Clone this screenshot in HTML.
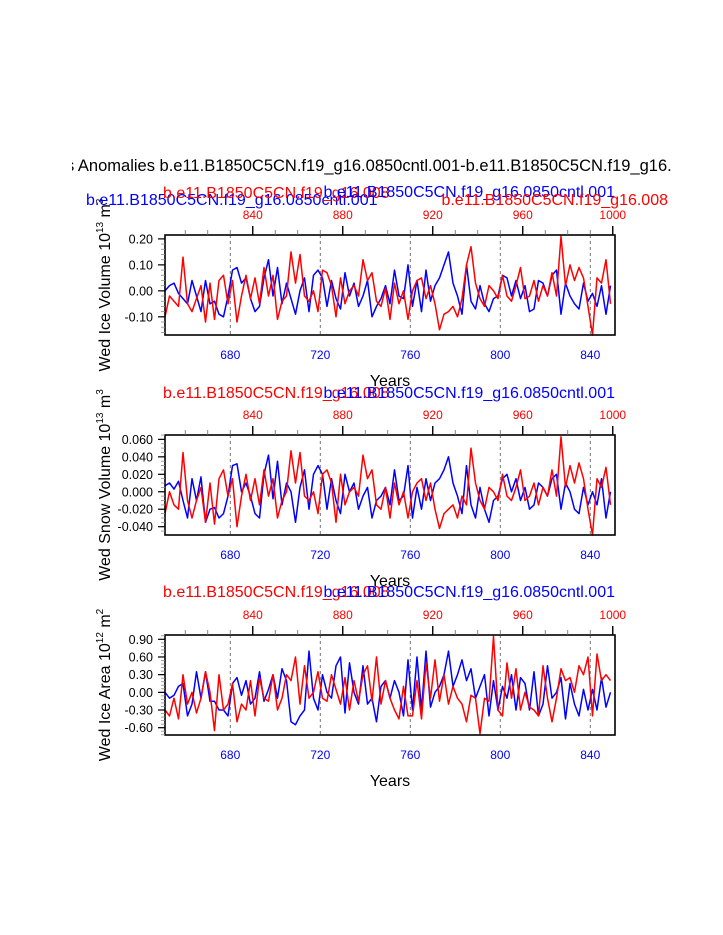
<!DOCTYPE html>
<html><head><meta charset="utf-8"><style>
html,body{margin:0;padding:0;background:#fff;}
svg{display:block;font-family:"Liberation Sans",Arial,sans-serif;}
</style></head><body>
<svg id="chart" width="723" height="935" viewBox="0 0 723 935">
<defs><clipPath id="titleclip"><rect x="72" y="140" width="610" height="40"/></clipPath></defs>
<text x="66" y="171" font-size="16.5" fill="#000" clip-path="url(#titleclip)">s Anomalies b.e11.B1850C5CN.f19_g16.0850cntl.001-b.e11.B1850C5CN.f19_g16.</text>
</svg>
<script>
const blueP1=[0,2,3,-1,-3,-5,4,-2,-8,4,-5,-4,-9,-10,-2,8,9,3,5,-3,-8,-6,5,12,-2,9,-5,3,-3,-9,0,5,-8,6,8,5,-6,4,-3,-7,7,-2,3,-6,-2,4,-10,-6,-3,2,-5,8,-2,-3,10,-6,4,-8,8,-4,2,5,10,15,3,-2,-9,10,-4,-7,2,-5,-8,-3,-2,6,5,-2,4,-3,2,-8,-7,4,3,-2,6,8,-9,3,-2,-5,-7,3,-4,-1,-6,2,-9,2];
const redP1=[-10,-2,-4,-6,13,-5,-8,-3,2,-12,3,-11,4,6,-5,4,-12,-2,6,-3,5,-5,9,-2,6,-11,-4,-2,15,3,14,-2,-4,0,-8,8,7,2,-10,5,-5,0,2,-2,12,4,7,-4,-6,1,-11,3,-5,0,-11,0,4,5,-3,2,-5,-15,-9,-8,-6,-10,-3,10,17,3,-3,-6,2,0,-3,6,-2,-4,2,9,-3,-2,4,-4,2,-2,7,-2,21,2,10,4,9,5,-6,-17,5,3,12,-5];
const blueP2=[7,10,3,12,-10,-30,15,-10,17,-35,-20,-18,-30,-25,-5,30,32,0,10,-5,-25,-30,20,42,-8,35,-15,10,0,-35,5,25,-20,20,30,20,-20,15,-10,-25,20,0,10,-20,-5,5,-30,-10,-5,5,-15,25,-10,-5,30,-30,5,-20,15,-10,10,15,25,40,10,-5,-25,30,-15,-30,5,-20,-35,-10,-5,15,20,0,15,-10,5,-20,-15,10,5,-5,15,20,-20,10,0,-20,-25,5,-15,0,-15,15,-30,0];
const redP2=[-25,0,-15,-20,45,-10,-30,-10,5,-35,10,-37,15,25,-5,15,-40,-5,20,-10,15,-15,25,-5,15,-30,-10,0,47,10,45,-5,-10,0,-25,20,25,10,-35,20,-15,0,5,-5,42,15,25,-15,-20,5,-30,10,-15,0,-30,0,10,15,-10,10,-20,-42,-25,-20,-15,-30,-5,-15,50,10,-10,-20,5,0,-10,20,-5,-10,5,25,-10,-5,10,-15,5,-5,25,-5,63,5,30,10,33,15,-20,-50,15,5,28,-15];
const blueP3=[0,-10,-5,10,15,-40,-20,35,-10,35,-15,-15,-30,-30,-40,15,25,-5,20,-20,-10,35,-15,5,30,-10,40,20,-50,-55,-40,-30,70,-10,-30,30,0,-10,45,60,-35,50,0,-20,45,-20,-10,-50,10,20,-10,20,0,-40,55,-30,60,-30,70,-25,0,10,30,70,10,30,55,20,40,-10,10,30,-40,20,-30,10,-10,30,-30,25,15,-30,35,-40,-20,45,-10,0,25,-45,15,-20,-40,5,-30,5,-30,25,-25,0];
const redP3=[-30,-40,-10,-45,30,-20,0,-35,-10,35,0,-65,30,-30,-20,15,-50,-20,-30,20,-40,25,-10,-15,30,-30,-10,30,20,60,-20,45,-10,0,35,-10,-15,30,5,-20,25,-30,20,-15,30,45,-15,60,-20,20,-10,-30,-45,10,-40,-40,20,-45,50,-10,55,-15,30,-20,10,-10,-20,-50,-5,-10,-70,-10,-15,95,-30,-40,50,-10,40,-30,0,-25,-30,-40,45,-10,-50,-10,40,20,25,0,45,30,60,-40,65,20,30,20];
const bottomTicks=[680,720,760,800,840];
const topTicks=[840,880,920,960,1000];
const yTicksP1=["0.20","0.10","0.00","-0.10"];
const yTicksP2=["0.060","0.040","0.020","0.000","-0.020","-0.040"];
const yTicksP3=["0.90","0.60","0.30","0.00","-0.30","-0.60"];

const NS="http://www.w3.org/2000/svg";
const svg=document.getElementById('chart');
function mk(tag,attrs,parent){const e=document.createElementNS(NS,tag);for(const k in attrs)e.setAttribute(k,attrs[k]);(parent||svg).appendChild(e);return e;}
const years=[];for(let i=0;i<100;i++)years.push(651+2*i);
const X0=165,X1=615,YR0=651,YR1=851,RED_OFF=150;
const xs=y=>X0+(y-YR0)*(X1-X0)/(YR1-YR0);

function panel(o){
  const g=mk('g',{});
  
  
  const ys=v=>o.top+(o.ymax-v*o.scale)/(o.ymax-o.ymin)*(o.bot-o.top);
  bottomTicks.forEach(t=>{const l=mk('line',{x1:xs(t),x2:xs(t),y1:o.top,y2:o.bot,stroke:'#555','stroke-width':0.8,'stroke-dasharray':'3,3'},g);
    
    });
  [[o.blue,'#0000ff','blue-series'],[o.red,'#ff0000','red-series']].forEach(([arr,c,n])=>{
    const d=arr.map((v,i)=>(i?'L':'M')+xs(years[i]).toFixed(1)+','+Math.max(o.top,Math.min(o.bot,ys(v))).toFixed(1)).join('');
    const p=mk('path',{d:d,fill:'none',stroke:c,'stroke-width':1.5,'stroke-linejoin':'round'},g);
    
    
  });
  const box=mk('rect',{x:X0,y:o.top,width:X1-X0,height:o.bot-o.top,fill:'none',stroke:'#000','stroke-width':1.6},g);
  
  
  for(let r=810;r<=1000;r+=10){const x=xs(r-RED_OFF);const maj=topTicks.includes(r);
    mk('line',{x1:x,x2:x,y1:o.top,y2:o.top-(maj?9:5),stroke:maj?'#000':'#666','stroke-width':maj?1.4:0.8},g);}
  topTicks.forEach(r=>{const t=mk('text',{x:xs(r-RED_OFF),y:o.top-16,'font-size':12,fill:'#ff0000','text-anchor':'middle'},g);t.textContent=r;
    
    });
  bottomTicks.forEach(b=>{const t=mk('text',{x:xs(b),y:o.bot+24,'font-size':12,fill:'#0000ff','text-anchor':'middle'},g);t.textContent=b;
    
    });
  for(let v=o.minStart;v<=o.ymax+1e-9;v+=o.minor){const y=ys(v/o.scale);if(y<o.top-0.5||y>o.bot+0.5)continue;
    mk('line',{x1:X0,x2:X0-4,y1:y,y2:y,stroke:'#888','stroke-width':0.8},g);}
  o.labels.forEach(s=>{const v=parseFloat(s);const y=ys(v/o.scale);
    mk('line',{x1:X0,x2:X0-7,y1:y,y2:y,stroke:'#000','stroke-width':1.2},g);
    const t=mk('text',{x:X0-12,y:y+4.5,'font-size':12.5,'text-anchor':'end',fill:'#000'},g);t.textContent=s;
    
    });
  const cy=(o.top+o.bot)/2;
  const yt=mk('text',{x:0,y:0,'font-size':16,'text-anchor':'middle',transform:`translate(110,${cy}) rotate(-90)`,fill:'#000'},g);
  yt.innerHTML=o.ytitle+' 10<tspan dy="-7" font-size="10">'+o.exp1+'</tspan><tspan dy="7"> m</tspan><tspan dy="-7" font-size="10">'+o.exp2+'</tspan>';
  
  
  const xt=mk('text',{x:390,y:o.bot+51,'font-size':16,'text-anchor':'middle',fill:'#000'},g);xt.textContent='Years';
  
  
}
panel({name:'ice-volume-panel',top:235,bot:335,ymax:0.215,ymin:-0.17,scale:0.01,blue:blueP1,red:redP1,labels:yTicksP1,minor:0.02,minStart:-0.16,ytitle:'Wed Ice Volume',exp1:'13',exp2:'3'});
panel({name:'snow-volume-panel',top:435,bot:535,ymax:0.065,ymin:-0.0495,scale:0.001,blue:blueP2,red:redP2,labels:yTicksP2,minor:0.005,minStart:-0.045,ytitle:'Wed Snow Volume',exp1:'13',exp2:'3'});
panel({name:'ice-area-panel',top:635,bot:735,ymax:0.973,ymin:-0.724,scale:0.01,blue:blueP3,red:redP3,labels:yTicksP3,minor:0.06,minStart:-0.72,ytitle:'Wed Ice Area',exp1:'12',exp2:'2'});

function txt(s,x,y,c,anchor,name){const t=mk('text',{x:x,y:y,'font-size':16,fill:c,'text-anchor':anchor||'start'});t.textContent=s;
  
  }
const A='b.e11.B1850C5CN.f19_g16.0850cntl.001',B='b.e11.B1850C5CN.f19_g16.008';
txt(A,86,205,'#0000ff','start','subtitle-blue-left');
txt(B,163,198,'#ff0000','start','subtitle-red-left');
txt(A,615,197,'#0000ff','end','subtitle-blue-right');
txt(B,668,205,'#ff0000','end','subtitle-red-right');
[398,597].forEach((y,i)=>{txt(B,163,y,'#ff0000','start','subtitle-red-'+(i+2));txt(A,615,y,'#0000ff','end','subtitle-blue-'+(i+2));});
</script>
</body></html>
